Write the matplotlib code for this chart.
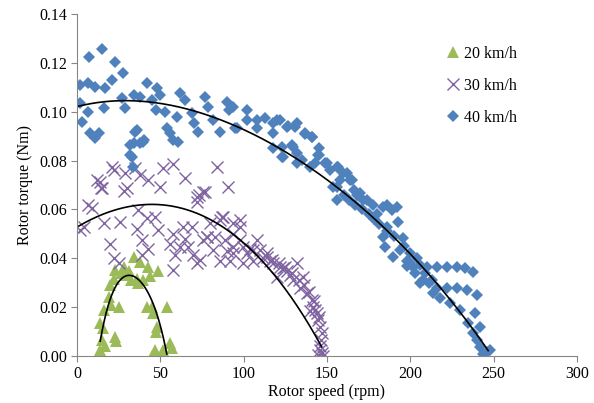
import numpy as np
import matplotlib
matplotlib.use("Agg")
import matplotlib.pyplot as plt

# ---- data, (speed rpm, torque Nm) ----
points20 = [(13.4, 0.000), (13.8, 0.0025), (14.8, 0.0065), (15.6, 0.0113), (13.8, 0.0136), (15.8, 0.0188),
            (18.8, 0.0243), (19.8, 0.029), (21.8, 0.0314), (22.8, 0.0352), (24.8, 0.0202), (22.8, 0.0079),
            (23.5, 0.006), (27.8, 0.0366), (30.8, 0.035), (33.8, 0.0407), (35.8, 0.0314), (37.8, 0.0385),
            (39.8, 0.031), (42.8, 0.0366), (43.5, 0.0326), (44.8, 0.0202), (45.8, 0.0175), (47.8, 0.0119),
            (47.5, 0.010), (48.8, 0.0346), (46.8, 0.0024), (47.0, 0.000), (51.8, 0.0024), (53.8, 0.0202),
            (55.8, 0.0052), (56.8, 0.0032), (44.8, 0.000), (41.8, 0.020), (15.0, 0.000), (16.5, 0.004),
            (29.0, 0.033), (32.0, 0.031), (36.5, 0.030), (26.0, 0.034), (20.5, 0.021)]

points30 = [(20.8, 0.0775), (21.8, 0.076), (11.8, 0.072), (14.8, 0.0688), (28.8, 0.0749), (29.8, 0.0688),
            (28.3, 0.0675), (37.8, 0.074), (42.8, 0.072), (49.8, 0.069), (51.8, 0.077), (57.8, 0.0785),
            (64.8, 0.0727), (71.8, 0.065), (76.8, 0.067), (83.8, 0.0775), (90.8, 0.069), (13.8, 0.0713),
            (14.2, 0.0687), (34.8, 0.077), (75.7, 0.0673), (73.0, 0.066), (6.6, 0.0618), (8.6, 0.0605),
            (1.8, 0.0516), (3.8, 0.053), (15.8, 0.0544), (25.8, 0.055), (36.4, 0.0598), (41.8, 0.0565),
            (46.8, 0.057), (48.6, 0.0516), (35.8, 0.052), (38.8, 0.0475), (19.8, 0.046), (22.0, 0.040),
            (24.8, 0.038), (38.8, 0.0413), (42.8, 0.044), (55.8, 0.046), (57.8, 0.050), (63.6, 0.0529),
            (66.6, 0.0447), (58.8, 0.0413), (69.6, 0.0413), (71.8, 0.063), (79.8, 0.0544), (75.8, 0.0475),
            (77.8, 0.0486), (82.8, 0.0486), (86.8, 0.057), (93.6, 0.0545), (88.8, 0.0475), (93.8, 0.0447),
            (57.8, 0.0352), (61.8, 0.0447), (64.8, 0.048), (68.8, 0.053), (71.8, 0.038), (73.8, 0.0395),
            (77.8, 0.0488), (81.8, 0.0434), (85.8, 0.0557), (85.8, 0.039), (93.6, 0.050), (97.6, 0.0475),
            (97.8, 0.0557), (93.6, 0.042), (101.8, 0.042), (99.8, 0.038), (105.6, 0.039), (109.8, 0.0434),
            (113.8, 0.0406), (117.8, 0.038), (121.8, 0.0366), (125.8, 0.035), (129.8, 0.031), (87.8, 0.057),
            (97.8, 0.053), (99.8, 0.0447), (89.8, 0.043), (91.8, 0.039), (105.8, 0.0434), (113.8, 0.042),
            (107.8, 0.0475), (119.8, 0.0325), (123.8, 0.036), (127.8, 0.033), (131.8, 0.038), (133.8, 0.028),
            (135.6, 0.0325), (137.8, 0.0257), (139.8, 0.0185), (140.8, 0.023), (141.8, 0.020), (143.8, 0.0175),
            (144.8, 0.0147), (145.8, 0.012), (146.8, 0.0094), (146.3, 0.0065), (146.0, 0.004), (146.8, 0.0012),
            (144.8, 0.0005), (147.5, 0.000), (145.5, 0.0025), (103.8, 0.044), (111.8, 0.040), (115.8, 0.039),
            (117.0, 0.0395), (121.0, 0.038), (125.0, 0.0365), (129.0, 0.034), (133.0, 0.031), (136.0, 0.029),
            (139.0, 0.026), (142.0, 0.0225), (143.0, 0.019), (145.0, 0.016)]

points40 = [(1.4, 0.1037), (1.4, 0.111), (2.8, 0.0959), (6.2, 0.1116), (6.8, 0.1223), (6.2, 0.100),
            (7.8, 0.0912), (10.8, 0.0892), (12.8, 0.0912), (10.8, 0.1102), (14.8, 0.1255), (15.8, 0.1014),
            (16.8, 0.1096), (20.8, 0.113), (22.8, 0.1205), (27.4, 0.116), (26.8, 0.1055), (28.8, 0.1014),
            (32.8, 0.0816), (33.8, 0.1068), (34.8, 0.0918), (34.0, 0.087), (37.8, 0.106), (40.0, 0.0884),
            (41.8, 0.1116), (44.8, 0.1048), (47.8, 0.1096), (47.5, 0.1007), (49.8, 0.1068), (52.8, 0.100),
            (53.8, 0.0932), (56.0, 0.0912), (57.5, 0.0884), (60.6, 0.0877), (61.8, 0.1075), (59.8, 0.098),
            (64.8, 0.1048), (68.8, 0.0993), (70.0, 0.0952), (72.8, 0.0918), (76.8, 0.1062), (78.8, 0.102),
            (81.6, 0.0966), (85.8, 0.0918), (89.8, 0.104), (91.0, 0.1007), (94.8, 0.0932), (101.8, 0.1007),
            (102.0, 0.0966), (107.8, 0.0932), (112.8, 0.0973), (117.8, 0.0912), (119.8, 0.0966),
            (122.8, 0.0857), (123.0, 0.0816), (125.8, 0.0939), (129.8, 0.0857), (131.8, 0.0789),
            (130.5, 0.0939), (31.8, 0.0823), (33.6, 0.0775), (31.8, 0.0864), (37.8, 0.087), (35.8, 0.0925),
            (39.8, 0.0877), (136.8, 0.091), (140.8, 0.0898), (145.0, 0.0823), (149.8, 0.0789),
            (156.6, 0.0775), (161.8, 0.0748), (164.8, 0.072), (155.8, 0.0693), (169.8, 0.0667),
            (93.8, 0.102), (95.8, 0.0932), (107.8, 0.0966), (117.8, 0.0952), (121.8, 0.0966), (126.8, 0.094),
            (131.8, 0.0952), (136.8, 0.0911), (140.8, 0.0898), (117.8, 0.085), (123.8, 0.0816),
            (128.8, 0.0864), (131.8, 0.083), (134.8, 0.0802), (139.8, 0.0775), (144.8, 0.0823),
            (148.8, 0.0789), (151.8, 0.0761), (155.8, 0.0775), (159.8, 0.0748), (163.8, 0.072),
            (157.8, 0.072), (153.8, 0.0693), (155.8, 0.0639), (167.8, 0.066), (171.8, 0.0639),
            (177.8, 0.0618), (185.8, 0.0618), (191.8, 0.061), (183.8, 0.061), (188.8, 0.0598),
            (192.8, 0.055), (195.8, 0.0482), (183.8, 0.0489), (184.8, 0.0447), (189.8, 0.0406),
            (193.8, 0.0434), (197.8, 0.039), (201.8, 0.0366), (205.8, 0.0372), (209.8, 0.0366),
            (215.8, 0.0366), (221.8, 0.0366), (227.8, 0.0366), (232.8, 0.0359), (237.8, 0.0345),
            (207.8, 0.031), (205.8, 0.0297), (213.8, 0.0256), (217.8, 0.0236), (221.8, 0.0277),
            (227.8, 0.0277), (233.8, 0.027), (239.8, 0.025), (223.8, 0.0216), (229.8, 0.0188),
            (238.8, 0.0175), (234.8, 0.0134), (241.8, 0.012), (237.8, 0.0093), (239.8, 0.0065),
            (241.8, 0.0038), (245.8, 0.0018), (243.8, 0.001), (247.8, 0.0025), (180.0, 0.058),
            (186.0, 0.053), (200.0, 0.038), (211.0, 0.030), (174.0, 0.064), (166.0, 0.068),
            (145.0, 0.085), (143.0, 0.079), (198.0, 0.037), (203.0, 0.034),
            (160.0, 0.066), (163.0, 0.064), (167.0, 0.062), (171.0, 0.060), (175.0, 0.058),
            (178.0, 0.056), (181.0, 0.054), (186.0, 0.051), (190.0, 0.049), (196.0, 0.045),
            (200.0, 0.042), (204.0, 0.040), (209.0, 0.034), (213.0, 0.031), (216.0, 0.028)]

# trendlines (speed rpm, torque Nm)
trend20 = [(13.8, 0.0059), (16.8, 0.0161), (20.8, 0.0257), (26.8, 0.0311), (32.8, 0.0327),
           (38.8, 0.0304), (44.8, 0.0229), (49.8, 0.0120), (53.8, 0.0011)]
trend30 = [(0.8, 0.0529), (10.8, 0.0570), (22.8, 0.0600), (34.8, 0.0615), (46.8, 0.0618),
           (58.8, 0.0609), (70.8, 0.0587), (82.8, 0.0550), (94.8, 0.0495), (106.8, 0.0420),
           (118.8, 0.0325), (130.8, 0.0216), (138.8, 0.0134), (146.8, 0.0038)]
trend40 = [(0.8, 0.1025), (12.8, 0.1038), (28.8, 0.1041), (44.8, 0.1038), (62.8, 0.1016),
           (78.8, 0.0986), (94.8, 0.0946), (110.8, 0.0894), (126.8, 0.0830), (142.8, 0.0754),
           (157.8, 0.0680), (169.8, 0.0611), (181.8, 0.0536), (193.8, 0.0461), (205.8, 0.0379),
           (217.8, 0.0284), (229.8, 0.0188), (237.8, 0.0106), (246.8, 0.0018)]

labels = ["20 km/h", "30 km/h", "40 km/h"]
colors = ["#9BBB59", "#8064A2", "#4F81BD"]

# ---- figure ----
plt.rcParams['font.family'] = ['Liberation Serif', 'DejaVu Serif']
fig = plt.figure(figsize=(5.94, 4.03), dpi=100)
ax = fig.add_axes([0.13, 0.1166, 0.841, 0.8486])

series = [np.array(points20), np.array(points30), np.array(points40)]
styles = [dict(marker='^', ms=9, mew=0),
          dict(marker='x', ms=8.5, mew=1.0),
          dict(marker='D', ms=6.3, mew=0)]
for arr, lab, col, st in zip(series, labels, colors, styles):
    ax.plot(arr[:, 0], arr[:, 1], linestyle='none', color=col, label=lab, **st)

# smooth polynomial trendlines through the read-off trend samples
for tr in [trend20, trend30, trend40]:
    t = np.array(tr)
    p = np.polyfit(t[:, 0], t[:, 1], 4)
    xx = np.linspace(t[0, 0], t[-1, 0], 200)
    ax.plot(xx, np.polyval(p, xx), color='black', lw=1.2)

ax.set_xlim(0, 300)
ax.set_ylim(0, 0.14)
ax.set_xticks(np.arange(0, 301, 50))
yt = np.arange(0, 0.1401, 0.02)
ax.set_yticks(yt)
ax.set_yticklabels([f"{v:.2f}" for v in yt])
for s in ['top', 'right']:
    ax.spines[s].set_visible(False)
for s in ['left', 'bottom']:
    ax.spines[s].set_color('#868686')
ax.tick_params(axis='both', direction='out', length=4, color='#868686', labelsize=11.5, labelcolor='black')
ax.set_xlabel("Rotor speed (rpm)", fontsize=11.5, labelpad=1)
ax.set_ylabel("Rotor torque (Nm)", fontsize=11.5, labelpad=4)

leg = ax.legend(loc='upper left', bbox_to_anchor=(0.72, 0.925), frameon=False, fontsize=11.5,
                handletextpad=0.1, handlelength=1.2, labelspacing=1.0, borderaxespad=0)

fig.savefig("out.png", dpi=100)
